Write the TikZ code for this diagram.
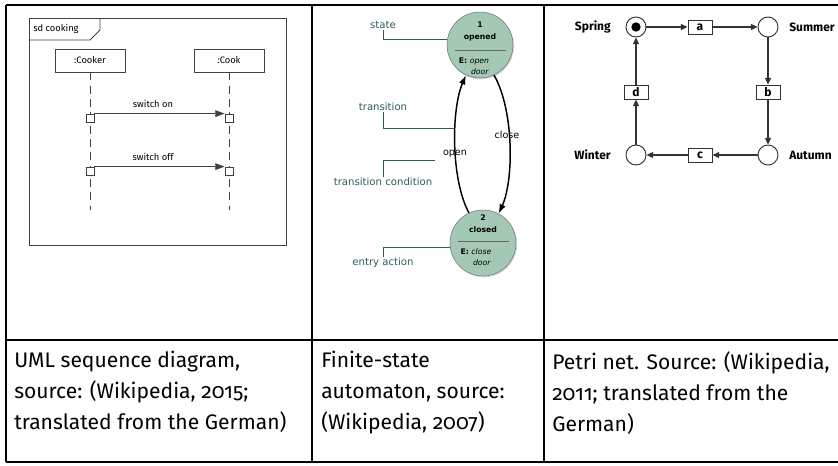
\documentclass[tikz,border=0pt]{standalone}
\usepackage{fontspec}
\setmainfont{Fira Sans}[Numbers=OldStyle]
\newfontfamily\dejavu{DejaVu Sans}
\usetikzlibrary{arrows.meta,shadows}
\definecolor{stategreen}{RGB}{163,201,181}
\definecolor{noteteal}{RGB}{44,92,92}
\tikzset{
  tablerule/.style={line width=0.9pt},
  caption/.style={anchor=north west,align=left,inner sep=0pt,font=\fontsize{15.8}{23.25}\selectfont},
  umlline/.style={draw=black!75,line width=0.6pt},
  lifebox/.style={umlline,minimum width=52.5pt,minimum height=17.25pt,inner sep=0pt,font=\fontsize{7}{8}\selectfont},
  lifeline/.style={umlline,dash pattern=on 6pt off 4pt},
  actbox/.style={umlline,fill=white,minimum size=6pt,inner sep=0pt},
  msg/.style={umlline,-{Triangle[length=7pt,width=5pt]}},
  umltext/.style={font=\fontsize{7}{8}\selectfont,inner sep=0.75pt},
  statecircle/.style={circle,draw=black!55,fill=stategreen,minimum size=49.5pt,inner sep=0pt,drop shadow={opacity=0.3,shadow xshift=0.8pt,shadow yshift=-1pt}},
  statetext/.style={font=\dejavu\fontsize{5.8}{6.8}\selectfont,inner sep=0.5pt},
  statehead/.style={font=\dejavu\bfseries\fontsize{5.8}{6.8}\selectfont,inner sep=0.5pt},
  transarc/.style={line width=1.1pt,-{Latex[length=7pt,width=5pt]}},
  arclabel/.style={font=\dejavu\fontsize{7.2}{8.5}\selectfont,inner sep=0.5pt},
  note/.style={font=\dejavu\fontsize{7.6}{9}\selectfont,text=noteteal,inner sep=0.75pt},
  noteline/.style={draw=noteteal,line width=0.7pt},
  place/.style={circle,draw=black!80,line width=0.7pt,minimum size=15pt,inner sep=0pt},
  token/.style={circle,fill=black,minimum size=7pt,inner sep=0pt},
  trans/.style={draw=black!80,line width=0.7pt,minimum width=18pt,minimum height=10.5pt,inner sep=0pt,font=\bfseries\fontsize{9}{10}\selectfont},
  netarc/.style={draw=black!80,line width=0.8pt,-{Triangle[length=5pt,width=4.5pt]}},
  seasontext/.style={font=\bfseries\fontsize{9}{10}\selectfont,inner sep=0.75pt}
}
\begin{document}
\begin{tikzpicture}[x=0.75pt,y=0.75pt,yscale=-1,xscale=1]
        \useasboundingbox (0,0) rectangle (838,465);

        %Table rules
        \draw[tablerule] (6,5) -- (838,5);
        \draw[tablerule] (6,340) -- (838,340);
        \draw[tablerule] (6,462) -- (838,462);
        \draw[tablerule] (6,5) -- (6,462);
        \draw[tablerule] (312,5) -- (312,462);
        \draw[tablerule] (544,5) -- (544,462);

        %UML sequence diagram: frame and tab
        \draw[umlline] (29,18) rectangle (286,245);
        \draw[umlline] (29,40) -- (90,40) -- (100,30) -- (100,18);
        \node[umltext,anchor=west] (sdlabel) at (32,29) {sd cooking};
        % Lifelines
        \node[lifebox] (cooker) at (90,60.5) {:Cooker};
        \node[lifebox] (cook) at (229,60.5) {:Cook};
        \coordinate (cookerend) at (90,210);
        \coordinate (cookend) at (229,210);
        \draw[lifeline] (cooker) -- (cookerend);
        \draw[lifeline] (cook) -- (cookend);
        % Activations
        \node[actbox] (cookeron) at (90,118) {};
        \node[actbox] (cookon) at (229,118) {};
        \node[actbox] (cookeroff) at (90,171) {};
        \node[actbox] (cookoff) at (229,171) {};
        % Messages
        \draw[msg] (cookeron.north east) -- (cookon.north west);
        \draw[msg] (cookeroff.north east) -- (cookoff.north west);
        \node[umltext] (onlabel) at (153,104) {switch on};
        \node[umltext] (offlabel) at (153,157) {switch off};

        %Finite-state automaton: states
        \node[statecircle] (opened) at (480,45) {};
        \node[statecircle] (closed) at (483,243) {};
        % Text Node
        \node[statehead] (openednum) at (480,25) {1};
        \node[statehead] (openedname) at (480,37) {opened};
        \draw[black!60,line width=0.5pt] (455,50) -- (506,50);
        \node[statetext] (openedentry) at (474,61) {\textbf{E:} \textit{open}};
        \node[statetext] (openeddoor) at (480,72) {\textit{door}};
        % Text Node
        \node[statehead] (closednum) at (483,218) {2};
        \node[statehead] (closedname) at (483,230) {closed};
        \draw[black!60,line width=0.5pt] (458,241) -- (509,241);
        \node[statetext] (closedentry) at (476,252) {\textbf{E:} \textit{close}};
        \node[statetext] (closeddoor) at (482,263) {\textit{door}};
        % Transitions
        \draw[transarc] (closed.115) .. controls (451,180) and (451,110) .. (opened.245);
        \draw[transarc] (opened.-65) .. controls (514,110) and (514,180) .. (closed.62);
        \node[arclabel] (closelabel) at (507,135) {close};
        \node[arclabel] (openlabel) at (455,154) {open};
        % Annotations
        \node[note] (statenote) at (383,25) {state};
        \node[note] (transnote) at (383,107) {transition};
        \node[note] (condnote) at (383,182) {transition condition};
        \node[note] (entrynote) at (383,263) {entry action};
        \coordinate (transhit) at (454,128);
        \coordinate (condhit) at (435,160);
        \draw[noteline] (statenote.south) |- (opened.170);
        \draw[noteline] (transnote.south) |- (transhit);
        \draw[noteline] (condnote.north) |- (condhit);
        \draw[noteline] (entrynote.north) |- (closed.187);

        %Petri net: places and transitions
        \node[place] (spring) at (636,27) {};
        \node[token] (springtoken) at (spring) {};
        \node[place] (summer) at (768,27) {};
        \node[place] (autumn) at (768,155) {};
        \node[place] (winter) at (636,155) {};
        \node[trans] (ta) at (700,27) {a};
        \node[trans] (tb) at (768,92) {b};
        \node[trans] (tc) at (700,155) {c};
        \node[trans] (td) at (636,92) {d};
        \foreach \from/\to in {spring/ta,ta/summer,summer/tb,tb/autumn,autumn/tc,tc/winter,winter/td,td/spring}
          \draw[netarc] (\from) -- (\to);
        \node[seasontext,anchor=east] (springlabel) at (612,27) {Spring};
        \node[seasontext,anchor=west] (summerlabel) at (788,27) {Summer};
        \node[seasontext,anchor=east] (winterlabel) at (612,155) {Winter};
        \node[seasontext,anchor=west] (autumnlabel) at (788,155) {Autumn};

        %Captions
        \node[caption] (umlcaption) at (14,351) {UML sequence diagram,\\source: (Wikipedia, 2015;\\translated from the German)};
        \node[caption] (fsacaption) at (321,351) {Finite-state\\automaton, source:\\(Wikipedia, 2007)};
        \node[caption] (petricaption) at (552,351) {Petri net. Source: (Wikipedia,\\2011; translated from the\\German)};
\end{tikzpicture}
\end{document}
